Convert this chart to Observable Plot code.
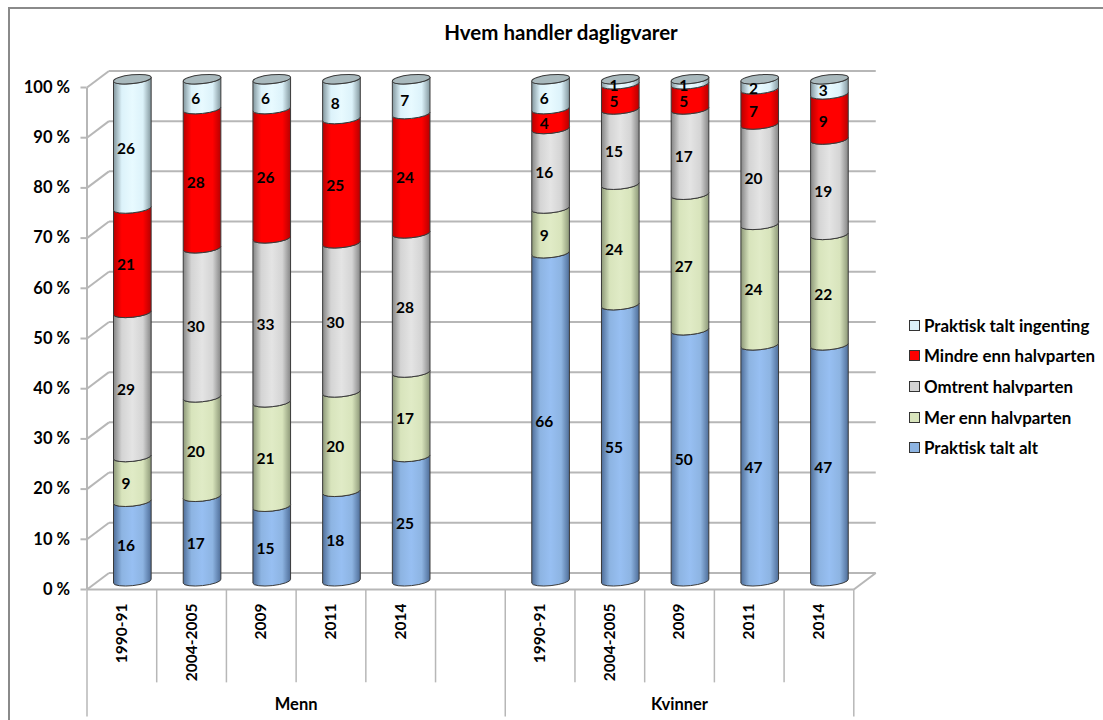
<!DOCTYPE html>
<html>
<head>
<meta charset="utf-8">
<script src="https://cdn.jsdelivr.net/npm/d3@7"></script>
<script src="https://cdn.jsdelivr.net/npm/@observablehq/plot@0.6"></script>
<style>
  html, body { margin: 0; padding: 0; background: #fff; }
  #chart { position: relative; width: 1103px; height: 720px; overflow: hidden; font-family: Lato, sans-serif; color: #000; }
  #frame { position: absolute; left: 8px; top: 7px; right: -4px; bottom: -4px; border-left: 2px solid #8a8a8a; border-top: 2px solid #8a8a8a; pointer-events: none; }
  #title { position: absolute; left: 0; width: 1122px; top: 20px; text-align: center; font-weight: 700; font-size: 20.5px; line-height: 24px; }
  #legend { position: absolute; left: 909px; top: 310px; font-weight: 700; font-size: 16.9px; }
  #legend .row { height: 30.6px; display: flex; align-items: center; white-space: nowrap; }
  #legend .swatch { width: 9px; height: 9px; border: 1px solid #333; margin-right: 4px; flex: none; }
  svg { position: absolute; left: 0; top: 0; }
</style>
</head>
<body>
<div id="chart"><div id="frame"></div><div id="title">Hvem handler dagligvarer</div><div id="legend"></div></div>
<script>
// Survey rounds, repeated for each group
const years = ["1990-91", "2004-2005", "2009", "2011", "2014"];
const groups = ["Menn", "Kvinner"];

// Responses per round: men first, then women
const praktiskAlt = [16, 17, 15, 18, 25, 66, 55, 50, 47, 47];
const merEnn      = [ 9, 20, 21, 20, 17,  9, 24, 27, 24, 22];
const omtrent     = [29, 30, 33, 30, 28, 16, 15, 17, 20, 19];
const mindreEnn   = [21, 28, 26, 25, 24,  4,  5,  5,  7,  9];
const ingenting   = [26,  6,  6,  8,  7,  6,  1,  1,  2,  3];

const seriesNames = ["Praktisk talt alt", "Mer enn halvparten", "Omtrent halvparten", "Mindre enn halvparten", "Praktisk talt ingenting"];
const seriesValues = [praktiskAlt, merEnn, omtrent, mindreEnn, ingenting];

// Edge, base and highlight colour of each cylinder band
const edgeColors = ["#4f6e99", "#8d9878", "#858585", "#b80000", "#83979e"];
const baseColors = ["#8db4e2", "#d8e4bc", "#d4d4d4", "#ff0000", "#dcf2fa"];
const lightColors = ["#97bff2", "#e0ebc6", "#e4e4e4", "#ff0000", "#e8faff"];

const yTicks = d3.range(0, 101, 10);

// Ten bars in eleven slots: one empty slot separates the two groups
const slotOf = i => (i < 5 ? i : i + 1);
const slotCount = 11;

// Oblique depth of the chart box, in slot and percentage units
const depthX = 0.315;
const depthY = 3.3;
const barHalf = 0.27;

// Stacks are normalised to 100 %, since rounded answers can add up to 101
const stacked = [];
for (let b = 0; b < 10; ++b) {
  const total = d3.sum(seriesValues, s => s[b]);
  let running = 0;
  seriesNames.forEach((name, k) => {
    const value = seriesValues[k][b];
    const y1 = running / total * 100;
    running += value;
    stacked.push({series: k, name, value, bar: b, slot: slotOf(b), y1, y2: running / total * 100});
  });
}

// Category labels under the floor
const yearRows = d3.range(10).map(b => ({slot: slotOf(b), label: years[b % 5]}));
const groupRows = [{label: groups[0], from: 0, to: 6}, {label: groups[1], from: 6, to: 11}];
const slotEdges = d3.range(slotCount + 1);
const tallEdges = [0, 6, 11];

const bandTilt = 6;
const bandRy = 4.4;

// Replaces the rect of each band with a cylinder slice bounded by two front arcs
function cylinderSlice(index, scales, values, dimensions, context, next) {
  const g = next(index, scales, values, dimensions, context);
  const sel = d3.select(g);
  sel.selectAll("rect").remove();
  const {x1: X1, x2: X2, y1: Y1, y2: Y2} = values;
  const t = bandTilt * Math.PI / 180;
  for (const i of index) {
    const rx = (X2[i] - X1[i]) / 2;
    const a = rx / Math.cos(t);
    const rise = rx * Math.tan(t);
    sel.append("path").attr("d",
      `M${X1[i]},${Y1[i] + rise}A${a},${bandRy} ${-bandTilt} 0 0 ${X2[i]},${Y1[i] - rise}` +
      `L${X2[i]},${Y2[i] - rise}A${a},${bandRy} ${-bandTilt} 0 1 ${X1[i]},${Y2[i] + rise}Z`);
  }
  return g;
}

// Replaces the rect of each top band with the cylinder's closing ellipse
function cylinderCap(index, scales, values, dimensions, context, next) {
  const g = next(index, scales, values, dimensions, context);
  const sel = d3.select(g);
  sel.selectAll("rect").remove();
  const {x1: X1, x2: X2, y2: Y2} = values;
  const t = bandTilt * Math.PI / 180;
  for (const i of index) {
    const cx = (X1[i] + X2[i]) / 2;
    sel.append("ellipse")
      .attr("cx", cx).attr("cy", Y2[i])
      .attr("rx", (X2[i] - X1[i]) / 2 / Math.cos(t)).attr("ry", bandRy)
      .attr("transform", `rotate(${-bandTilt} ${cx} ${Y2[i]})`);
  }
  return g;
}

function gradients() {
  const defs = d3.create("svg:defs");
  seriesNames.forEach((_, k) => {
    const lg = defs.append("linearGradient").attr("id", `band-${k}`).attr("x1", 0).attr("x2", 1).attr("y1", 0).attr("y2", 0);
    [[0, edgeColors[k]], [0.22, baseColors[k]], [0.5, lightColors[k]], [0.78, baseColors[k]], [1, edgeColors[k]]]
      .forEach(([o, c]) => lg.append("stop").attr("offset", o).attr("stop-color", c));
  });
  return defs.node();
}

const gridColor = "#b7b7b7";
const cx = d => d.slot + 0.5 + depthX / 2;

const plot = Plot.plot({
  width: 1103,
  height: 720,
  marginLeft: 86.5,
  marginRight: 249.7,
  marginTop: 87,
  marginBottom: 131,
  style: {background: "transparent", overflow: "visible", fontFamily: "Lato, sans-serif"},
  x: {domain: [0, slotCount], axis: null},
  y: {domain: [0, 100], axis: null},
  marks: [
    gradients,
    // Back wall gridlines and the diagonals of the side wall
    Plot.link(yTicks, {x1: depthX, x2: slotCount + depthX, y1: d => d + depthY, y2: d => d + depthY, stroke: gridColor, strokeWidth: 2}),
    Plot.link(yTicks, {x1: 0, x2: depthX, y1: d => d, y2: d => d + depthY, stroke: gridColor, strokeWidth: 2}),
    // Floor
    Plot.link([0], {x1: 0, x2: slotCount, y1: 0, y2: 0, stroke: gridColor, strokeWidth: 2}),
    Plot.link([0], {x1: slotCount, x2: slotCount + depthX, y1: 0, y2: depthY, stroke: gridColor, strokeWidth: 2}),
    // Front vertical and the axis ticks
    Plot.link([0], {x1: 0, x2: 0, y1: 0, y2: 100, stroke: gridColor, strokeWidth: 2}),
    Plot.axisY(yTicks, {
      tickSize: 6, tickPadding: 11, stroke: gridColor, fill: "#000", strokeWidth: 2,
      fontSize: 16.5, fontWeight: 700, tickFormat: d => `${d} %`
    }),
    // Category dividers below the floor
    Plot.link(slotEdges.filter(e => !tallEdges.includes(e)), {x1: d => d, x2: d => d, y1: 0, y2: -18.5, stroke: gridColor, strokeWidth: 1.5}),
    Plot.link(tallEdges, {x1: d => d, x2: d => d, y1: 0, y2: -25.3, stroke: gridColor, strokeWidth: 1.5}),
    // One stacked cylinder per round
    ...seriesNames.map((_, k) => Plot.rect(stacked.filter(d => d.series === k), {
      x1: d => cx(d) - barHalf,
      x2: d => cx(d) + barHalf,
      y1: d => d.y1 + depthY / 2 - 0.1,
      y2: d => d.y2 + depthY / 2 - 0.1,
      fill: `url(#band-${k})`,
      stroke: "#3a3a3a",
      strokeWidth: 1,
      render: cylinderSlice
    })),
    Plot.rect(stacked.filter(d => d.series === seriesNames.length - 1), {
      x1: d => cx(d) - barHalf,
      x2: d => cx(d) + barHalf,
      y1: d => d.y2 + depthY / 2 - 0.1,
      y2: d => d.y2 + depthY / 2 - 0.1,
      fill: "#a9b9bd",
      stroke: "#3a3a3a",
      strokeWidth: 1,
      render: cylinderCap
    }),
    // Value labels
    Plot.text(stacked, {
      x: d => d.slot + 0.5 + 0.06,
      y: d => (d.y1 + d.y2) / 2 + 0.7,
      text: d => String(d.value),
      fontSize: 15.5,
      fontWeight: 700,
      fill: "#000",
      lineAnchor: "middle"
    }),
    // Round and group labels
    Plot.text(yearRows, {
      x: d => d.slot + 0.5,
      y: -2.8,
      text: "label",
      rotate: -90,
      textAnchor: "end",
      lineAnchor: "middle",
      fontSize: 15.5,
      fontWeight: 700,
      fill: "#000"
    }),
    Plot.text(groupRows, {
      x: d => (d.from + d.to) / 2,
      y: -23,
      text: "label",
      fontSize: 16.5,
      fontWeight: 700,
      fill: "#000",
      lineAnchor: "middle"
    })
  ]
});
document.getElementById("chart").prepend(plot);

// Legend reads top-down, the same order as the bands in a bar
const legend = d3.select("#legend");
for (const k of d3.range(seriesNames.length - 1, -1, -1)) {
  const row = legend.append("div").attr("class", "row");
  row.append("span").attr("class", "swatch").style("background", baseColors[k]);
  row.append("span").text(seriesNames[k]);
}
</script>
</body>
</html>
